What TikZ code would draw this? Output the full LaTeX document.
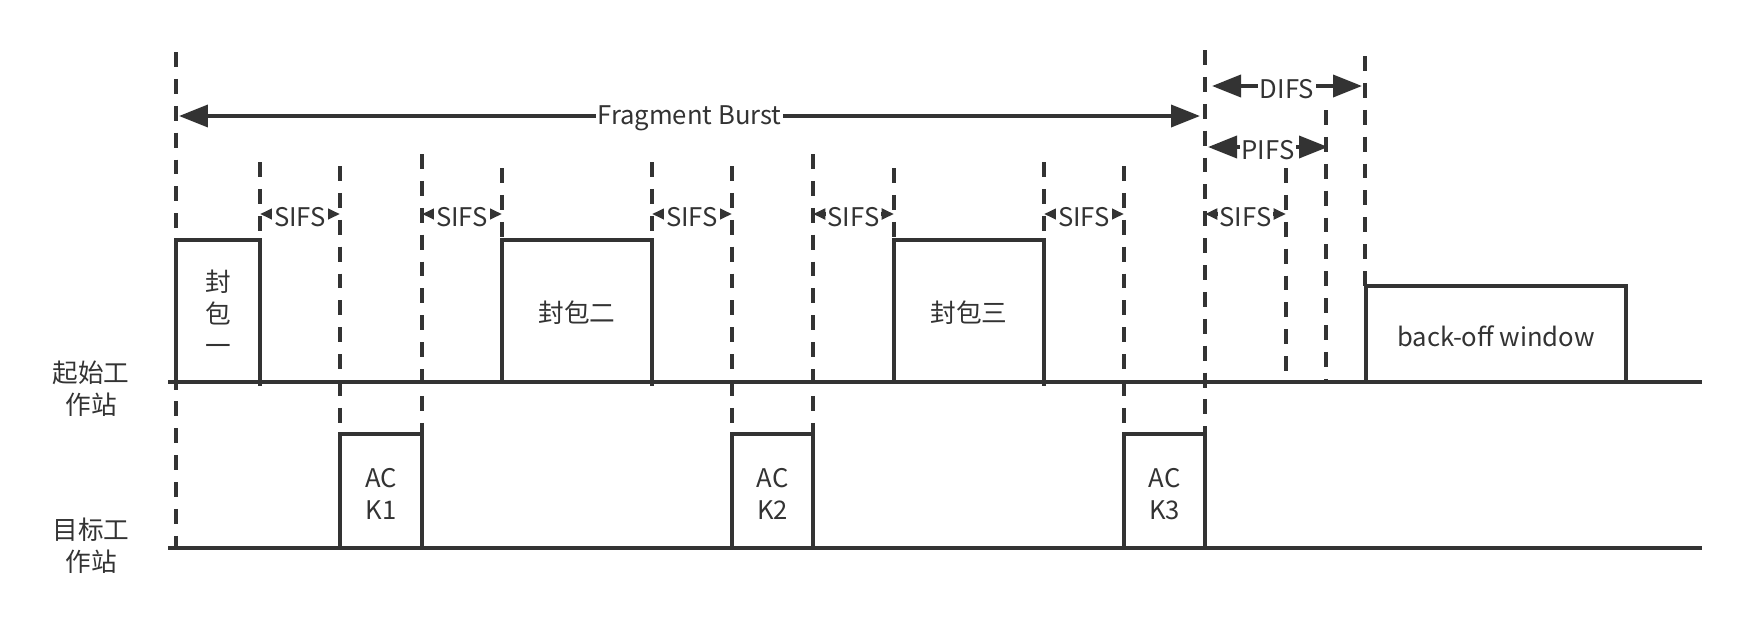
\documentclass[tikz,border=0pt]{standalone}
\usepackage{fontspec}
\setmainfont{Noto Sans CJK SC}
\usetikzlibrary{arrows.meta}
\definecolor{ink}{HTML}{333333}

\begin{document}
\begin{tikzpicture}[x=0.02cm, y=-0.02cm, line width=2.2pt, color=ink,
        font=\fontsize{14.6}{18.2}\selectfont,
        guide/.style={dash pattern=on 8.5pt off 6.8pt},
        longarrow/.style={{Triangle[length=16.5pt,width=12.5pt]}-{Triangle[length=16.5pt,width=12.5pt]}},
        shortarrow/.style={{Triangle[length=7pt,width=6pt]}-{Triangle[length=7pt,width=6pt]}},
        tag/.style={fill=white, inner sep=1pt, yshift=-1.5pt}]
        \useasboundingbox (0,0) rectangle (1751,640);
        % two stations
        \draw (168,382) -- (1702,382);
        \draw (168,548) -- (1702,548);
        \node [align=center] (src) at (91,389) {起始工\\作站};
        \node [align=center] (dst) at (91,546) {目标工\\作站};
        % dashed guides
        \foreach \x/\a/\b in {176/52/550, 260/162/386, 340/166/434, 422/154/434, 502/168/240,
                652/162/386, 732/166/434, 813/154/434, 894/168/240, 1044/162/386,
                1124/166/434, 1205/50/434, 1286/168/382, 1326/110/382, 1365/56/286}
            \draw [guide] (\x,\a) -- (\x,\b);
        % packets
        \draw (176,382) rectangle (260,240);
        \node [align=center] (pkt1) at (218,313) {封\\包\\一};
        \draw (502,382) rectangle (652,240);
        \node (pkt2) at (577,313) {封包二};
        \draw (894,382) rectangle (1044,240);
        \node (pkt3) at (969,313) {封包三};
        \draw (1366,382) rectangle (1626,286);
        \node (backoff) at (1496,336) {back-off window};
        % acks
        \foreach \l/\r [count=\i] in {340/422, 732/813, 1124/1205} {
            \draw (\l,548) rectangle (\r,434);
            \node [align=center] (ack\i) at ({(\l+\r)/2},494) {AC\\K\i};
        }
        % intervals
        \draw [longarrow] (179,116) -- (1200,116) node [midway, tag] (burst) {Fragment Burst};
        \draw [longarrow] (1212,86) -- (1362,86) node [midway, tag] (difs) {DIFS};
        \draw [longarrow] (1208,147) -- (1328,147) node [midway, tag] (pifs) {PIFS};
        \foreach \a/\b [count=\i] in {260/340, 422/502, 652/732, 813/894, 1044/1124, 1205/1286}
            \draw [shortarrow] (\a,214) -- (\b,214) node [midway, tag] (sifs\i) {SIFS};
\end{tikzpicture}
\end{document}
